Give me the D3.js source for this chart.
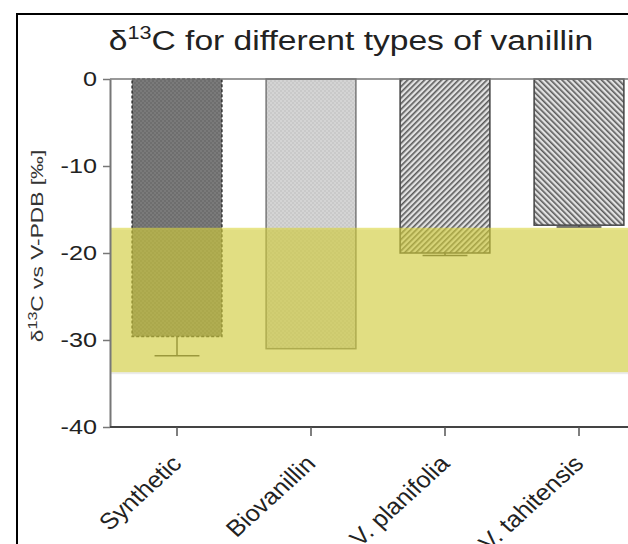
<!DOCTYPE html>
<html>
<head>
<meta charset="utf-8">
<script src="https://cdn.jsdelivr.net/npm/d3@7"></script>
<style>
    body { margin: 0; background: #fff; }
    svg { font-family: "Liberation Sans", Arial, sans-serif; }
</style>
</head>
<body>
<svg id="chart" width="628" height="544"></svg>
<script>
// data
let categories = ["Synthetic", "Biovanillin", "V. planifolia", "V. tahitensis"];
let values = [-29.6, -31.0, -20.0, -16.8];
let errors = [2.2, 0, 0.3, 0.2];
let yTicks = [0, -10, -20, -30, -40];
// typical range for C3 plants (the yellow band)
let c3Range = [-33.7, -17.1];
let patterns = ["dotsDark", "dotsLight", "hatchUp", "hatchDown"];

let svg = d3.select("#chart");

let x = d3.scaleBand()
    .domain(categories)
    .range([110, 646])
    .paddingInner(0.33)
    .paddingOuter(0.165);

let y = d3.scaleLinear()
    .domain([0, -40])
    .range([79, 427]);

// patterns for the bars
let defs = svg.append("defs");

let p1 = defs.append("pattern").attr("id", "dotsDark")
    .attr("patternUnits", "userSpaceOnUse").attr("width", 4).attr("height", 4);
p1.append("rect").attr("width", 4).attr("height", 4).attr("fill", "#7a7a7a");
p1.append("circle").attr("cx", 1).attr("cy", 1).attr("r", 0.9).attr("fill", "#686868");
p1.append("circle").attr("cx", 3).attr("cy", 3).attr("r", 0.9).attr("fill", "#686868");

let p2 = defs.append("pattern").attr("id", "dotsLight")
    .attr("patternUnits", "userSpaceOnUse").attr("width", 4).attr("height", 4);
p2.append("rect").attr("width", 4).attr("height", 4).attr("fill", "#c9c9c9");
p2.append("circle").attr("cx", 1).attr("cy", 1).attr("r", 0.9).attr("fill", "#dadada");
p2.append("circle").attr("cx", 3).attr("cy", 3).attr("r", 0.9).attr("fill", "#dadada");

let p3 = defs.append("pattern").attr("id", "hatchUp")
    .attr("patternUnits", "userSpaceOnUse").attr("width", 4).attr("height", 4)
    .attr("patternTransform", "rotate(45)");
p3.append("rect").attr("width", 4).attr("height", 4).attr("fill", "#e2e2e2");
p3.append("rect").attr("width", 1.6).attr("height", 4).attr("fill", "#5a5a5a");

let p4 = defs.append("pattern").attr("id", "hatchDown")
    .attr("patternUnits", "userSpaceOnUse").attr("width", 4).attr("height", 4)
    .attr("patternTransform", "rotate(-45)");
p4.append("rect").attr("width", 4).attr("height", 4).attr("fill", "#e2e2e2");
p4.append("rect").attr("width", 1.6).attr("height", 4).attr("fill", "#5a5a5a");

// frame around the figure
svg.append("path")
    .attr("d", "M17,544 L17,14 L628,14")
    .attr("fill", "none")
    .attr("stroke", "#000")
    .attr("stroke-width", 2);

// title (the picture is stretched sideways, so is the text)
let title = svg.append("text")
    .attr("transform", "translate(351, 50) scale(1.2, 1)")
    .attr("text-anchor", "middle")
    .style("font-size", "28px")
    .attr("fill", "#222");
title.append("tspan").text("δ");
title.append("tspan").attr("dy", -11).style("font-size", "18px").text("13");
title.append("tspan").attr("dy", 11).text("C for different types of vanillin");

// bars
svg.selectAll(".bar")
    .data(values)
    .enter().append("rect")
        .attr("class", "bar")
        .attr("x", (d, i) => x(categories[i]))
        .attr("y", y(0))
        .attr("width", x.bandwidth())
        .attr("height", d => y(d) - y(0))
        .attr("fill", (d, i) => "url(#" + patterns[i] + ")")
        .attr("stroke", (d, i) => i == 0 ? "#333" : (i == 1 ? "#777" : "#444"))
        .attr("stroke-width", 1.5)
        .style("stroke-dasharray", (d, i) => i == 0 ? "3,2" : "none");

// error bars (only downward)
let err = svg.selectAll(".err")
    .data(values)
    .enter().append("g")
        .attr("class", "err");
err.append("line")
    .attr("x1", (d, i) => x(categories[i]) + x.bandwidth() / 2)
    .attr("x2", (d, i) => x(categories[i]) + x.bandwidth() / 2)
    .attr("y1", d => y(d))
    .attr("y2", (d, i) => y(d - errors[i]))
    .attr("stroke", "#444")
    .attr("stroke-width", 1.5);
err.append("line")
    .attr("x1", (d, i) => x(categories[i]) + x.bandwidth() / 4)
    .attr("x2", (d, i) => x(categories[i]) + x.bandwidth() * 3 / 4)
    .attr("y1", (d, i) => y(d - errors[i]))
    .attr("y2", (d, i) => y(d - errors[i]))
    .attr("stroke", (d, i) => errors[i] > 0 ? "#444" : "none")
    .attr("stroke-width", 1.5);

// yellow band
svg.append("rect")
    .attr("x", 111)
    .attr("y", y(c3Range[1]) + 2)
    .attr("width", 628 - 111)
    .attr("height", y(c3Range[0]) - y(c3Range[1]))
    .attr("fill", "#000")
    .attr("opacity", 0.08);
svg.append("rect")
    .attr("x", 111)
    .attr("y", y(c3Range[1]))
    .attr("width", 628 - 111)
    .attr("height", y(c3Range[0]) - y(c3Range[1]))
    .attr("fill", "#dbd63c")
    .attr("opacity", 0.6);

// baseline at 0
svg.append("line")
    .attr("x1", 110).attr("x2", 628)
    .attr("y1", y(0)).attr("y2", y(0))
    .attr("stroke", "#777")
    .attr("stroke-width", 1.5);

// y axis
let yAxis = svg.append("g")
    .attr("transform", "translate(110, 0)")
    .call(d3.axisLeft(y).tickValues(yTicks).tickFormat(d => String(d)).tickSize(7).tickSizeOuter(0));
yAxis.select(".domain").attr("stroke", "#777").attr("stroke-width", 2);
yAxis.selectAll(".tick line").attr("stroke", "#777").attr("stroke-width", 1.5);
yAxis.selectAll(".tick text")
    .attr("x", -13 / 1.2)
    .attr("transform", "scale(1.2, 1)")
    .style("font-size", "21px")
    .style("font-family", "Liberation Sans, Arial, sans-serif")
    .attr("fill", "#222");

// x axis
let xAxis = svg.append("g")
    .attr("transform", "translate(0, 427)")
    .call(d3.axisBottom(x).tickSize(9).tickSizeOuter(0));
xAxis.select(".domain").attr("stroke", "#444").attr("stroke-width", 2)
    .attr("d", "M110,0H628");
xAxis.selectAll(".tick line").attr("stroke", "#555").attr("stroke-width", 1.5);
xAxis.selectAll(".tick text")
    .attr("x", 0)
    .attr("y", 0)
    .attr("dy", 0)
    .style("font-size", "23px")
    .style("font-family", "Liberation Sans, Arial, sans-serif")
    .attr("fill", "#222")
    .attr("text-anchor", "end")
    .attr("transform", "translate(6, 38) scale(1.1, 1) rotate(-45)");

// y axis label
let ylab = svg.append("text")
    .attr("transform", "translate(43, 246) rotate(-90) scale(1.34, 1)")
    .attr("text-anchor", "middle")
    .style("font-size", "17px")
    .attr("fill", "#333");
ylab.append("tspan").text("δ");
ylab.append("tspan").attr("dy", -6).style("font-size", "12px").text("13");
ylab.append("tspan").attr("dy", 6).text("C vs V-PDB [‰]");
</script>
</body>
</html>
